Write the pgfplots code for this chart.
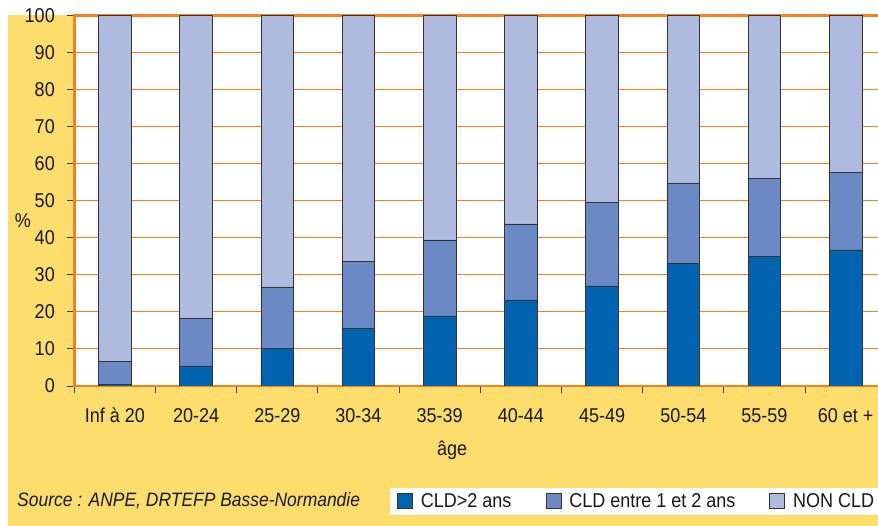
\documentclass[border=0pt]{standalone}
\usepackage{pgfplots}
\pgfplotsset{compat=1.18}
\usepackage{pgfplotstable}
\usepackage{fontspec}
\setmainfont{Liberation Sans}[FakeStretch=0.9]
\definecolor{bgY}{HTML}{FDDD6B}
\definecolor{orgC}{HTML}{F58220}
\definecolor{cDark}{HTML}{0063AF}
\definecolor{cMid}{HTML}{6B89C4}
\definecolor{cLight}{HTML}{AEBBDF}

\pgfplotstableread{
x dark mid light
0 0.3 6.4 93.3
1 5.4 12.7 81.9
2 10.2 16.3 73.5
3 15.6 17.9 66.5
4 18.9 20.5 60.6
5 23.2 20.5 56.3
6 27.0 22.5 50.5
7 33.1 21.5 45.4
8 35.0 20.9 44.1
9 36.7 20.8 42.5
}\datatable

\begin{document}
\begin{tikzpicture}
\useasboundingbox (0pt,0pt) rectangle (878pt,526pt);
\fill[white] (0pt,0pt) rectangle (878pt,526pt);
\fill[bgY] (8pt,0pt) rectangle (878pt,511pt);
\node[anchor=base west, inner sep=0pt, text=black!90, font=\fontsize{19.4}{23}\selectfont\itshape] at (17pt,19.3pt) {Source : ANPE, DRTEFP Basse-Normandie};
\begin{axis}[
  at={(74.3pt,140pt)}, anchor=south west,
  scale only axis, width=806.7pt, height=370.7pt,
  axis background/.style={fill=white},
  xmin=-0.5, xmax=9.435, ymin=0, ymax=100,
  ybar stacked, bar width=32.7pt,
  axis line style={draw=orgC, line width=2.5pt},
  ymajorgrids, grid style={draw=orgC, line width=0.9pt},
  tick pos=left, tick align=outside, major tick length=7pt,
  tick style={draw=black!75, line width=0.9pt},
  ytick={0,10,...,100},
  yticklabel style={xshift=-9pt},
  xtick={-0.5,0.5,...,8.5}, xticklabels={},
  extra x ticks={0,1,...,9},
  extra x tick labels={Inf à 20,20-24,25-29,30-34,35-39,40-44,45-49,50-54,55-59,60 et +},
  extra x tick style={tick style={draw=none}, xmajorgrids=false,
     xticklabel style={anchor=base, yshift=-30pt}},
  /pgf/number format/assume math mode=true,
  tick label style={font=\fontsize{20}{24}\selectfont, text=black!90},
  xlabel={âge},
  xlabel style={at={(axis description cs:0.4683,-0.1725)}, anchor=center, font=\fontsize{20}{24}\selectfont, text=black!90},
  ylabel={\%},
  ylabel style={at={(axis description cs:-0.0636,0.4474)}, rotate=-90, anchor=center, font=\fontsize{20}{24}\selectfont, text=black!90},
  legend columns=3,
  legend style={at={(axis description cs:0.3913,-0.3113)}, anchor=west, draw=none, fill=white,
     inner xsep=7pt, inner ysep=4pt, font=\fontsize{20}{24}\selectfont, text=black!90,
     /tikz/every odd column/.append style={column sep=6pt},
     /tikz/every even column/.append style={column sep=32pt}},
  legend image code/.code={\draw[#1, draw=black!80, line width=0.8pt] (0pt,-7.5pt) rectangle (15pt,7.5pt);},
]
\addplot[fill=cDark, draw=black!80, line width=0.8pt] table[x=x, y=dark] {\datatable};
\addplot[fill=cMid, draw=black!80, line width=0.8pt] table[x=x, y=mid] {\datatable};
\addplot[fill=cLight, draw=black!80, line width=0.8pt] table[x=x, y=light] {\datatable};
\legend{CLD>2 ans, CLD entre 1 et 2 ans, NON CLD\hspace*{8pt}}
\end{axis}
\end{tikzpicture}
\end{document}
